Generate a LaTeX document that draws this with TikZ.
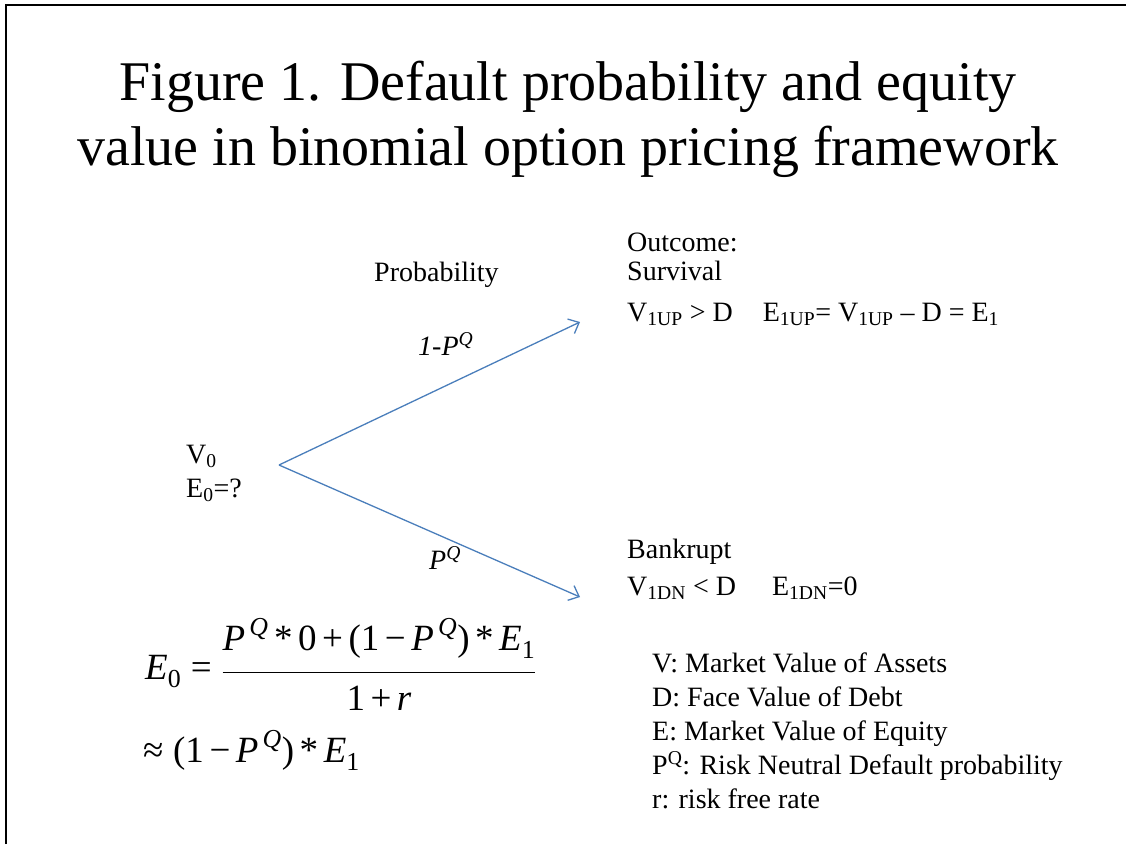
\documentclass[tikz,border=0pt]{standalone}
\usepackage{amsmath}
\usepackage{fontspec}
\setmainfont{Liberation Serif}
\usetikzlibrary{arrows.meta}
\definecolor{linkblue}{HTML}{4A7EBB}
\newcommand\tI[1]{\textit{#1}}
\newcommand\tR[1]{\text{#1}}
\newcommand\bop[1]{\mathbin{\text{#1}}}
\newcommand\PQ{\tI{P}^{\,\tI{Q}}}
\begin{document}
\begin{tikzpicture}[x=1pt,y=-1pt,
  txt/.style={inner sep=0pt, anchor=base west, font=\fontsize{28}{32}\selectfont},
  lbl/.style={inner sep=0pt, anchor=base west, font=\fontsize{28}{32}\selectfont\itshape},
  mathtxt/.style={inner sep=0pt, anchor=base west, font=\fontsize{37}{42}\selectfont},
  titletxt/.style={inner sep=0pt, anchor=base, font=\fontsize{56}{65}\selectfont},
  branch/.style={draw=linkblue, line width=1.3pt, -{Straight Barb[length=9pt,width=16pt]}}]
\useasboundingbox (0,0) rectangle (1126,844);
\draw[line width=2pt] (6,844) -- (6,5) -- (1126,5);

\node[titletxt] (t1) at (568,100) {Figure 1. Default probability and equity};
\node[titletxt] (t2) at (568,165) {value in binomial option pricing framework};

\node[txt] (prob) at (374,281) {Probability};
\node[txt] (outc) at (627,251) {Outcome:};
\node[txt] (surv) at (627,280) {Survival};
\node[txt] (vup) at (627,321) {V$_{\mathrm{1UP}}$ > D\hspace{30pt}E$_{\mathrm{1UP}}$= V$_{\mathrm{1UP}}$ -- D = E$_{\mathrm{1}}$};

\node[txt] (v0) at (186,463) {V$_{\mathrm{0}}$};
\node[txt] (e0) at (186,497) {E$_{\mathrm{0}}$=?};

\coordinate (root) at (279,465);
\coordinate (upend) at (580,322);
\coordinate (dnend) at (580,597);
\draw[branch] (root) -- (upend);
\draw[branch] (root) -- (dnend);

\node[lbl] (pup) at (418,355) {1-P$^{\textit{Q}}$};
\node[lbl] (pdn) at (429,569) {P$^{\textit{Q}}$};

\node[txt] (bank) at (627,558) {Bankrupt};
\node[txt] (vdn) at (627,595) {V$_{\mathrm{1DN}}$ < D\hspace{36pt}E$_{\mathrm{1DN}}$=0};

\node[mathtxt] (eq) at (145,679) {$\thickmuskip=7mu\displaystyle \tI{E}_{\tR{0}} \mathrel{\tR{=}} \frac{\PQ \bop{*} \tR{0} \bop{+} \tR{(1} \bop{−} \PQ\tR{)} \bop{*} \tI{E}_{\tR{1}}\rule[-19pt]{0pt}{19pt}}{\rule{0pt}{34pt}\tR{1} \bop{+} \tI{r}}$};
\node[mathtxt] (approx) at (143,762) {$\thickmuskip=7mu\mathrel{\tR{≈}} \tR{(1} \bop{−} \PQ\tR{)} \bop{*} \tI{E}_{\tR{1}}$};

\node[txt] (l1) at (652,672) {V: Market Value of Assets};
\node[txt] (l2) at (652,706) {D: Face Value of Debt};
\node[txt] (l3) at (652,740) {E: Market Value of Equity};
\node[txt] (l4) at (652,774) {P$^{\mathrm{Q}}$: Risk Neutral Default probability};
\node[txt] (l5) at (652,808) {r: risk free rate};
\end{tikzpicture}
\end{document}
